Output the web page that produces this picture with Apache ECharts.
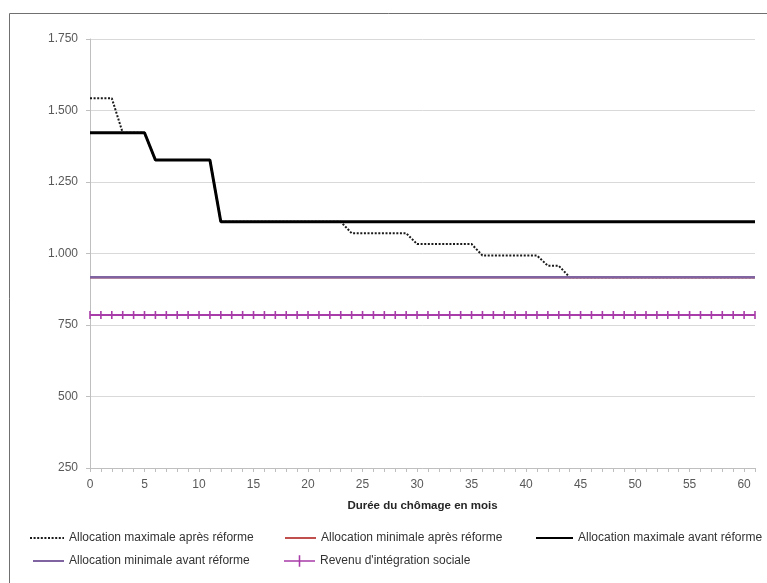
<!DOCTYPE html>
<html>
<head>
<meta charset="utf-8">
<script src="https://cdn.jsdelivr.net/npm/echarts@6/dist/echarts.min.js"></script>
<style>
  html, body { margin: 0; padding: 0; background: #ffffff; }
  #chart { width: 767px; height: 583px; }
</style>
</head>
<body>
<div id="chart"></div>
<script>
// Months of unemployment (x axis categories)
const months = ['0','1','2','3','4','5','6','7','8','9','10','11','12','13','14','15','16','17','18','19','20',
  '21','22','23','24','25','26','27','28','29','30','31','32','33','34','35','36','37','38','39','40',
  '41','42','43','44','45','46','47','48','49','50','51','52','53','54','55','56','57','58','59','60','61'];

const seriesNames = [
  'Allocation maximale après réforme',
  'Allocation minimale après réforme',
  'Allocation maximale avant réforme',
  'Allocation minimale avant réforme',
  "Revenu d'intégration sociale"
];

// Monthly amounts (EUR)
const maxApres = [1543,1543,1543,1422,1422,1422,1327,1327,1327,1327,1327,1327,
  1111,1111,1111,1111,1111,1111,1111,1111,1111,1111,1111,1111,
  1071,1071,1071,1071,1071,1071,1033,1033,1033,1033,1033,1033,
  993,993,993,993,993,993,957,957,
  917,917,917,917,917,917,917,917,917,917,917,917,917,917,917,917,917,917];

const minApres = [917,917,917,917,917,917,917,917,917,917,917,917,917,917,917,917,917,917,917,917,917,
  917,917,917,917,917,917,917,917,917,917,917,917,917,917,917,917,917,917,917,917,
  917,917,917,917,917,917,917,917,917,917,917,917,917,917,917,917,917,917,917,917,917];

const maxAvant = [1422,1422,1422,1422,1422,1422,1327,1327,1327,1327,1327,1327,
  1111,1111,1111,1111,1111,1111,1111,1111,1111,1111,1111,1111,1111,1111,1111,1111,1111,
  1111,1111,1111,1111,1111,1111,1111,1111,1111,1111,1111,1111,1111,1111,1111,1111,1111,
  1111,1111,1111,1111,1111,1111,1111,1111,1111,1111,1111,1111,1111,1111,1111,1111];

const minAvant = [917,917,917,917,917,917,917,917,917,917,917,917,917,917,917,917,917,917,917,917,917,
  917,917,917,917,917,917,917,917,917,917,917,917,917,917,917,917,917,917,917,917,
  917,917,917,917,917,917,917,917,917,917,917,917,917,917,917,917,917,917,917,917,917];

const ris = [785,785,785,785,785,785,785,785,785,785,785,785,785,785,785,785,785,785,785,785,785,
  785,785,785,785,785,785,785,785,785,785,785,785,785,785,785,785,785,785,785,785,
  785,785,785,785,785,785,785,785,785,785,785,785,785,785,785,785,785,785,785,785,785];

const yMin = 250, yMax = 1750, yStep = 250;

const FONT = "'Liberation Sans', Arial, sans-serif";
const colors = ['#1a1a1a', '#C0504D', '#000000', '#8064A2', '#A83CA8'];

function fmtThousands(v) {
  if (v >= 1000) {
    const r = String(v % 1000).padStart(3, '0');
    return Math.floor(v / 1000) + '.' + r;
  }
  return String(v);
}

// One legend block per entry so each sits in its own column
function legendAt(name, left, top, width, icon) {
  const lg = {
    data: [icon ? { name: name, icon: icon } : name],
    left: left,
    top: top,
    orient: 'horizontal',
    itemWidth: width,
    itemHeight: 12,
    itemGap: 0,
    selectedMode: false,
    textStyle: { fontFamily: FONT, fontSize: 12, color: '#333333' }
  };
  if (!icon) {
    // line-only key: hide the centre symbol
    lg.itemStyle = { color: 'rgba(0,0,0,0)', borderWidth: 0, opacity: 0 };
  }
  return lg;
}

// line with a short vertical tick in the middle
const plusIcon = 'path://M0,5.2 L15.2,5.2 L15.2,0 L16.8,0 L16.8,5.2 L32,5.2 L32,6.8 L16.8,6.8 L16.8,12 L15.2,12 L15.2,6.8 L0,6.8 Z';

const chart = echarts.init(document.getElementById('chart'), null, { renderer: 'canvas' });

chart.setOption({
  animation: false,
  backgroundColor: '#ffffff',
  textStyle: { fontFamily: FONT },
  graphic: [{
    type: 'rect',
    shape: { x: 9.5, y: 13.5, width: 800, height: 600 },
    style: { fill: 'none', stroke: '#707070', lineWidth: 1 },
    silent: true,
    z: -10
  }],
  grid: { left: 90, right: 12, top: 39, bottom: 115, containLabel: false },
  legend: [
    legendAt(seriesNames[0], 24, 527, 34),
    legendAt(seriesNames[1], 279, 527, 31),
    legendAt(seriesNames[2], 530, 527, 37),
    legendAt(seriesNames[3], 27, 550, 31),
    legendAt(seriesNames[4], 279, 550, 31, plusIcon)
  ],
  xAxis: {
    type: 'category',
    data: months,
    boundaryGap: false,
    name: 'Durée du chômage en mois',
    nameLocation: 'middle',
    nameGap: 32,
    nameTextStyle: { fontFamily: FONT, fontSize: 11.5, fontWeight: 'bold', color: '#262626' },
    axisLine: { lineStyle: { color: '#BFBFBF', width: 1 } },
    axisTick: { show: true, interval: 0, length: 4, lineStyle: { color: '#BFBFBF' } },
    axisLabel: { interval: 4, margin: 11, fontFamily: FONT, fontSize: 12, color: '#595959' },
    splitLine: { show: false }
  },
  yAxis: {
    type: 'value',
    min: yMin,
    max: yMax,
    interval: yStep,
    axisLine: { show: true, lineStyle: { color: '#BFBFBF', width: 1 } },
    axisTick: { show: true, length: 4, lineStyle: { color: '#BFBFBF' } },
    axisLabel: { margin: 12, fontFamily: FONT, fontSize: 12, color: '#595959', formatter: fmtThousands },
    splitLine: { show: true, lineStyle: { color: '#D9D9D9', width: 1 } }
  },
  series: [
    {
      name: seriesNames[0], type: 'line', data: maxApres, symbol: 'none',
      lineStyle: { color: colors[0], width: 2, type: [2, 1.6] },
      itemStyle: { color: colors[0] }, z: 2
    },
    {
      name: seriesNames[1], type: 'line', data: minApres, symbol: 'none',
      lineStyle: { color: colors[1], width: 2.5 },
      itemStyle: { color: colors[1] }, z: 3
    },
    {
      name: seriesNames[2], type: 'line', data: maxAvant, symbol: 'none',
      lineStyle: { color: colors[2], width: 3 },
      itemStyle: { color: colors[2] }, z: 4
    },
    {
      name: seriesNames[3], type: 'line', data: minAvant, symbol: 'none',
      lineStyle: { color: colors[3], width: 2.5 },
      itemStyle: { color: colors[3] }, z: 5
    },
    {
      name: seriesNames[4], type: 'line', data: ris, symbol: 'rect', symbolSize: [1.6, 8],
      showAllSymbol: true,
      lineStyle: { color: colors[4], width: 2 },
      itemStyle: { color: colors[4] }, z: 6
    }
  ]
});
</script>
</body>
</html>
